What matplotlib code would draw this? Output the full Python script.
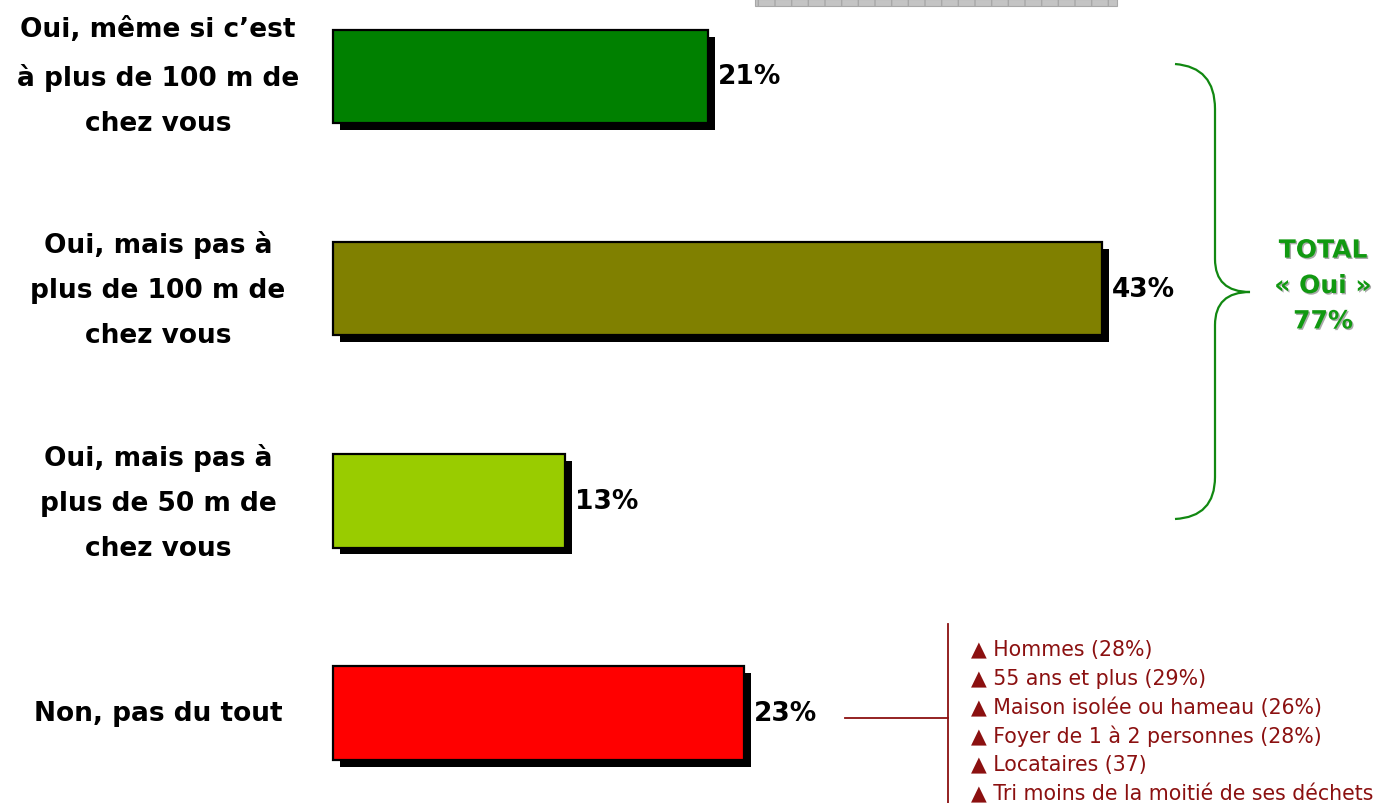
import numpy as np
import matplotlib
matplotlib.use('Agg')
import matplotlib.pyplot as plt
import matplotlib.patheffects as pe
from matplotlib.path import Path
from matplotlib.patches import PathPatch, Rectangle

plt.rcParams['font.family'] = ['DejaVu Sans']

categories = ["Oui, même si c\u2019est\nà plus de 100 m de\nchez vous",
              "Oui, mais pas à\nplus de 100 m de\nchez vous",
              "Oui, mais pas à\nplus de 50 m de\nchez vous",
              "Non, pas du tout"]
values = [21, 43, 13, 23]
bar_colors = ['#008000', '#808000', '#99CC00', '#FF0000']
total_oui = 77
details = ["Hommes (28%)", "55 ans et plus (29%)", "Maison isolée ou hameau (26%)",
           "Foyer de 1 à 2 personnes (28%)", "Locataires (37)",
           "Tri moins de la moitié de ses déchets"]

W, H = 1390, 804
fig = plt.figure(figsize=(W / 100, H / 100), dpi=100)

# main axes: x in %, starts at pixel 333, 17.88 px per %
x0 = 333
ppu = 17.88
ax = fig.add_axes([x0 / W, 0, 1 - x0 / W, 1])
ax.set_xlim(0, (W - x0) / ppu)
ax.set_ylim(3 + (H - 714) / 212.2, -77.5 / 212.2)
ax.axis('off')

y = np.arange(len(values))
bars = ax.barh(y, values, height=0.44, color=bar_colors, edgecolor='black', linewidth=1.6)
for b in bars:
    b.set_clip_on(False)
    b.set_path_effects([pe.SimplePatchShadow(offset=(5, -5), shadow_rgbFace='black', alpha=1),
                        pe.Normal()])
for i, v in enumerate(values):
    ax.text(v + 0.55, i, f"{v}%", ha='left', va='center', fontsize=19, fontweight='bold')

for i, lab in enumerate(categories):
    fig.text(158 / W, 1 - [77, 290, 503, 714][i] / H, lab, ha='center', va='center',
             fontsize=19, fontweight='bold', linespacing=1.96, multialignment='center')

# overlay axes in pixel coords for annotations
ov = fig.add_axes([0, 0, 1, 1])
ov.set_xlim(0, W)
ov.set_ylim(H, 0)
ov.axis('off')

# grey strip at top
ov.add_patch(Rectangle((755, 0), 362, 7, facecolor='#c4c4c4', edgecolor='#a8a8a8',
                       hatch='|', linewidth=0.8))

# brace
g = '#118811'
verts = [(1175, 65), (1215, 68), (1215, 110), (1215, 110),
         (1215, 260), (1215, 260), (1215, 293), (1250, 293),
         (1215, 293), (1215, 326), (1215, 326),
         (1215, 478), (1215, 478), (1215, 518), (1175, 520)]
codes = [Path.MOVETO, Path.CURVE3, Path.CURVE3, Path.LINETO,
         Path.LINETO, Path.LINETO, Path.CURVE3, Path.CURVE3,
         Path.CURVE3, Path.CURVE3, Path.LINETO,
         Path.LINETO, Path.LINETO, Path.CURVE3, Path.CURVE3]
ov.add_patch(PathPatch(Path(verts, codes), facecolor='none', edgecolor=g, linewidth=1.6))
ov.text(1323, 287, f"TOTAL\n\u00ab Oui \u00bb\n{total_oui}%", ha='center', va='center',
        color='#119911', fontsize=18, fontweight='bold', linespacing=1.6,
        path_effects=[pe.withSimplePatchShadow(offset=(1, -1), shadow_rgbFace='#aaaaaa', alpha=1)])

# red details
r = '#8B1010'
ov.plot([845, 948], [719, 719], color=r, lw=1.3)
ov.plot([948, 948], [625, 804], color=r, lw=1.3)
for k, t in enumerate(details):
    ov.text(971, 650 + k * 28.8, "\u25b2 " + t, ha='left', va='center', color=r, fontsize=14.8)

fig.savefig('out.png', dpi=100, facecolor='white')
